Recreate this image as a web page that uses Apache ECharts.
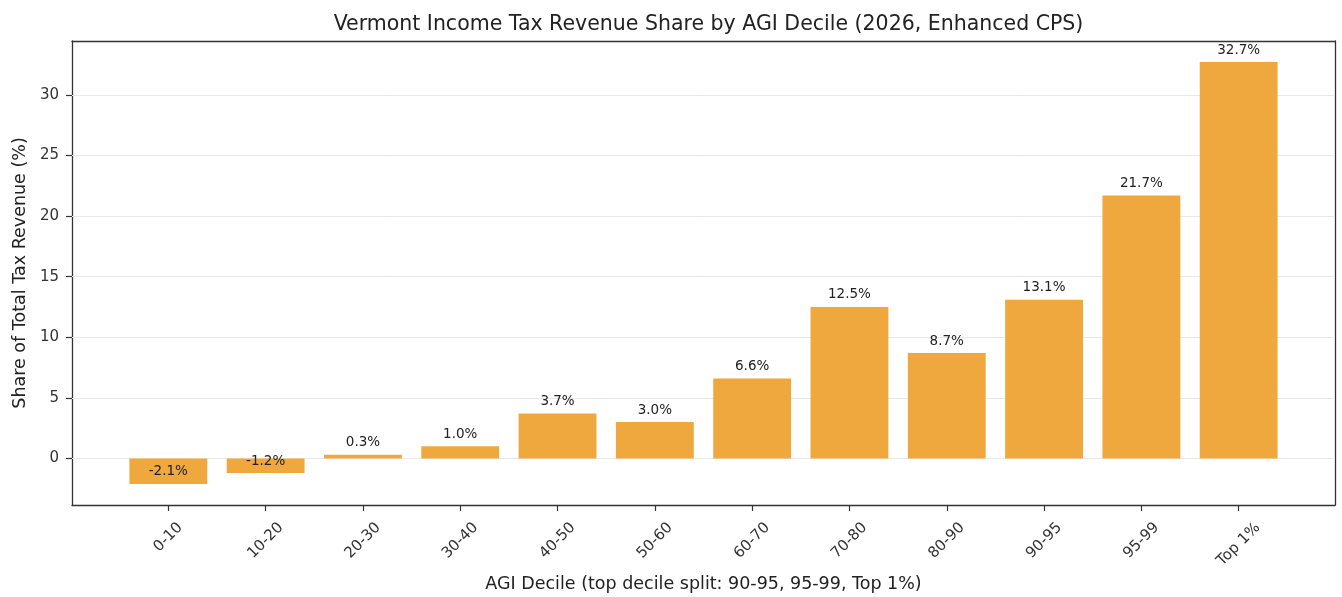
<!DOCTYPE html>
<html>
<head>
<meta charset="utf-8">
<script src="https://cdn.jsdelivr.net/npm/echarts@6/dist/echarts.min.js"></script>
<style>
html,body{margin:0;padding:0;background:#fff;}
#chart{width:1342px;height:597px;}
</style>
</head>
<body>
<div id="chart"></div>
<script>
const categories = ['0-10','10-20','20-30','30-40','40-50','50-60','60-70','70-80','80-90','90-95','95-99','Top 1%'];
const shares = [-2.1,-1.2,0.3,1.0,3.7,3.0,6.6,12.5,8.7,13.1,21.7,32.7];
const yTicks = [0,5,10,15,20,25,30];
const titleText = 'Vermont Income Tax Revenue Share by AGI Decile (2026, Enhanced CPS)';
const xTitle = 'AGI Decile (top decile split: 90-95, 95-99, Top 1%)';
const yTitle = 'Share of Total Tax Revenue (%)';

const FONT = '"DejaVu Sans", sans-serif';
const gridL = 72, gridR = 7, gridT = 41, gridB = 92;
const W = 1342;
const n = categories.length;
const xMin = -0.4 - 0.05 * (n - 1 + 0.8);
const xMax = (n - 1) + 0.4 + 0.05 * (n - 1 + 0.8);
const yLo = Math.min(...shares), yHi = Math.max(...shares);
const yMin = yLo - 0.05 * (yHi - yLo);
const yMax = yHi + 0.05 * (yHi - yLo);
const plotW = W - gridL - gridR;
const barW = 0.8 * plotW / (xMax - xMin);

// per-label shift so rotated labels are centred under their ticks (matplotlib style)
const TICK_FS = 15;
const cv = document.createElement('canvas').getContext('2d');
cv.font = TICK_FS + 'px "DejaVu Sans"';
const rich = {};
categories.forEach((c, i) => {
  const w = cv.measureText(c).width;
  const s = (w + TICK_FS) / 2;
  rich['l' + i] = {fontSize: TICK_FS, fontFamily: FONT, color: '#333', padding: [s, s, 0, 0]};
});
const idx = categories.map((c, i) => i);

const chart = echarts.init(document.getElementById('chart'), null, {renderer: 'canvas'});
chart.setOption({
  animation: false,
  backgroundColor: '#fff',
  title: {
    text: titleText, left: gridL + plotW / 2, textAlign: 'center', top: 9,
    textStyle: {fontFamily: FONT, fontSize: 20.5, fontWeight: 'normal', color: '#222'}
  },
  grid: {left: gridL, right: gridR, top: gridT, bottom: gridB, containLabel: false, outerBoundsMode: 'none'},
  xAxis: [{
    type: 'value', min: xMin, max: xMax,
    name: xTitle, nameLocation: 'middle', nameGap: 70,
    nameTextStyle: {fontFamily: FONT, fontSize: 17.5, color: '#222'},
    axisLine: {show: true, onZero: false, lineStyle: {color: '#333', width: 1.3}},
    axisTick: {show: true, customValues: idx, length: 6, lineStyle: {color: '#333', width: 1.2}},
    axisLabel: {
      customValues: idx, rotate: 45, align: 'center', verticalAlign: 'middle', margin: 15,
      formatter: v => { const i = Math.round(v); return '{l' + i + '|' + categories[i] + '}'; },
      rich: rich
    },
    splitLine: {show: false}
  }, {
    type: 'value', min: xMin, max: xMax, position: 'top',
    axisLine: {show: true, onZero: false, lineStyle: {color: '#333', width: 1.3}},
    axisTick: {show: false}, axisLabel: {show: false}, splitLine: {show: false}
  }],
  yAxis: [{
    type: 'value', min: yMin, max: yMax,
    name: yTitle, nameLocation: 'middle', nameGap: 43,
    nameTextStyle: {fontFamily: FONT, fontSize: 17.5, color: '#222'},
    axisLine: {show: true, onZero: false, lineStyle: {color: '#333', width: 1.3}},
    axisTick: {show: true, customValues: yTicks, length: 6, lineStyle: {color: '#333', width: 1.2}},
    axisLabel: {customValues: yTicks, margin: 13, fontFamily: FONT, fontSize: TICK_FS, color: '#333'},
    splitLine: {show: false}
  }, {
    type: 'value', min: yMin, max: yMax, position: 'right',
    axisLine: {show: true, onZero: false, lineStyle: {color: '#333', width: 1.3}},
    axisTick: {show: false}, axisLabel: {show: false}, splitLine: {show: false}
  }],
  series: [{
    type: 'bar',
    xAxisIndex: 0, yAxisIndex: 0,
    barWidth: barW,
    data: shares.map((v, i) => [i, v]),
    itemStyle: {color: '#efa83d'},
    z: 3,
    markLine: {
      silent: true, symbol: 'none', z: 1,
      label: {show: false},
      lineStyle: {color: '#e8e8e8', width: 1, type: 'solid'},
      data: yTicks.map(t => ({yAxis: t}))
    }
  }, {
    type: 'scatter',
    xAxisIndex: 0, yAxisIndex: 0,
    symbolSize: 0,
    itemStyle: {opacity: 1},
    data: shares.map((v, i) => [i, v]),
    label: {
      show: true, position: 'top', distance: 5,
      formatter: p => p.value[1].toFixed(1) + '%',
      fontFamily: FONT, fontSize: 13.5, color: '#222'
    },
    z: 5
  }]
});
</script>
</body>
</html>
